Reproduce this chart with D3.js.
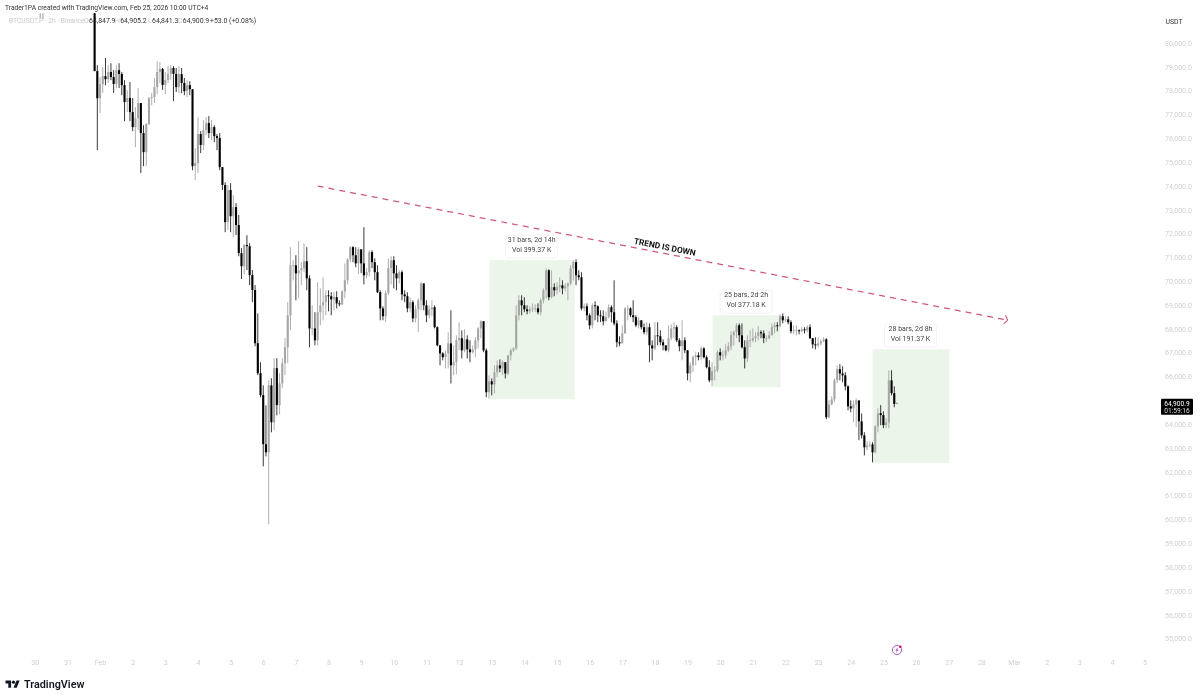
<!DOCTYPE html>
<html><head><meta charset="utf-8">
<script src="https://cdn.jsdelivr.net/npm/d3@7/dist/d3.min.js"></script>
<style>
html,body{margin:0;padding:0;background:#fff;overflow:hidden}
svg{display:block;filter:blur(0.3px)}
text{font-family:Roboto,"Noto Sans",sans-serif}
</style></head><body>
<svg id="c" width="1200" height="699"></svg>
<script>
const firstOpen = 81250;
const closes = [78820,77680,78270,78610,78480,78780,78570,78280,78860,78700,78230,77520,77690,77100,76470,76850,77480,76220,75420,76600,77690,77730,78150,78780,78910,78240,78450,78700,78950,78700,78150,78700,78320,77980,78230,78060,74830,74960,76180,75720,76350,76640,76220,76470,76090,76010,74790,74040,72480,73830,72730,73110,72360,71180,70630,71520,71470,70260,69630,67400,66140,65220,63160,62820,65630,64080,66350,64800,65710,66560,67230,68570,70670,70670,70330,70460,70540,70840,70120,68020,68020,67520,68700,68990,69120,69410,69370,69240,69330,69070,69030,69580,70040,70920,71430,71090,70750,71340,70750,70250,70380,71220,70800,70380,69540,68860,68530,69500,70550,70880,70330,70120,70380,69450,69370,68860,69120,68440,68820,69200,69910,68990,68570,68820,68910,68070,67310,66970,66810,66970,67390,66470,66600,67520,67610,67100,67560,67140,67020,67140,67520,68020,68320,67100,65340,65800,65670,66180,66470,66340,66600,66130,66890,67100,67180,68570,69200,68990,68820,68740,68820,68860,68860,68700,69200,69620,70460,69330,69750,69620,69750,69830,69700,69790,69910,70540,70800,70250,70170,68860,68950,68570,68150,68990,68950,68570,68530,68320,68490,68910,68700,68230,67440,67390,67810,68860,68860,68570,68490,68150,68360,68070,67860,68070,67310,67180,67730,67690,67440,67310,67100,67610,68020,68070,67520,67270,67520,67100,66130,66470,66810,66890,66810,67180,66810,66390,65840,66220,66260,67020,66890,66890,67100,67270,67730,67860,68150,67730,67230,66760,67520,67520,67610,67690,67860,67810,67610,67610,67730,68070,68150,68110,68530,68360,68400,68280,67900,67940,67940,67900,67980,67940,68070,67610,67350,67310,67390,67480,67560,64290,64830,65040,65840,66310,66130,66050,65590,64750,64660,64830,65000,64120,63530,63030,63110,63150,62820,63910,64460,64380,63960,64080,65840,65300,64847.9,64900.9];
const highs = [81250,79070,78570,78990,79370,79070,79150,78860,79070,79150,78780,78440,78020,78360,77690,77310,78110,77480,76550,76640,77730,77900,78530,79240,79200,78950,78780,79030,79070,79030,78950,79030,78950,78530,78440,78400,78060,75590,76890,76300,76770,76890,76930,76770,76550,76180,76220,74790,74160,74040,74120,73620,73280,72780,71390,71560,71930,71600,70470,69840,68650,66600,65630,64790,65840,65930,66770,66770,66140,66770,67610,69120,71430,70880,71090,71680,70800,71590,71430,70250,68990,68700,69960,69700,70170,69620,69620,69540,69540,69580,69200,69620,70750,70960,71470,71470,71430,71430,71340,72270,70550,71300,71300,70960,70670,69620,68950,69620,70960,71050,71050,70670,70460,70460,69620,69540,69330,69200,68990,69280,69960,69910,69200,68990,69200,68990,68110,67310,67020,67100,67860,68780,67310,67730,68280,67940,67980,67730,67520,67310,67650,68070,68360,68320,67180,66050,65920,66470,66680,66720,66680,66600,66890,67180,67230,68990,69410,69410,69330,68990,68950,69070,69030,69070,69280,69700,70540,70500,70460,69910,69960,70170,70040,69910,69960,70670,70880,70920,70460,70380,69070,69070,68650,69070,69160,68990,68780,68780,68730,69030,68990,70040,68360,67690,68150,68910,68990,68910,69200,68570,68490,68360,68230,68280,68230,67520,68280,68280,67940,67560,67310,68150,68190,68280,68150,67610,68360,67650,67100,66600,66890,67020,67020,67270,67230,66890,66680,66600,66430,67100,67180,67100,67350,67440,67900,67940,68230,68230,68230,67520,67730,67940,68020,67860,68110,67940,67940,67730,67900,68230,68280,68280,68610,68650,68530,68530,68360,68150,68150,67980,68070,68070,68150,68190,67610,67650,67650,67560,67650,67610,65000,65170,65920,66470,66520,66430,66180,65630,65000,65000,65080,64960,64450,63660,63280,63280,63240,63960,64670,64800,64540,64250,66260,66260,65590,64905.2];
const lows = [78820,75500,77060,77900,78230,78320,78440,77900,78110,78110,77810,76720,77100,76720,76300,75630,76350,74540,74830,74830,76550,77390,77480,77860,78320,78030,77860,78320,78450,77560,77940,77900,77900,77810,77730,77810,74660,74240,74540,75380,75500,76130,76010,75930,75840,75500,74660,73830,72060,72150,72060,71850,71940,71050,70090,70300,70470,69840,69120,67270,66060,65130,62230,62650,59800,63660,63750,64370,64410,65510,66060,66560,67940,70040,69200,69280,69830,70380,69620,67230,67730,67310,67310,68150,68360,68570,68740,68570,68780,68860,68950,69000,69280,69870,70800,70800,70590,70300,70340,69870,70120,70210,70550,70040,69500,68360,68360,68280,69410,69870,69700,69620,69910,69200,69120,68700,68700,68280,68280,67860,68780,68780,68280,68440,68530,68020,67270,66470,66680,66340,66340,65710,66060,66090,67100,66760,67020,66760,66600,66970,66810,67180,67610,67020,65130,65080,65210,65290,65970,66180,66060,65920,66060,66680,67020,67100,68360,68570,68700,68610,68650,68700,68700,68610,68570,69070,69280,69200,69280,69370,69450,69540,69450,69580,69200,69830,70040,69830,70040,68780,68740,68360,67980,68020,68360,68280,68280,68150,68320,68440,68280,68150,67230,67270,67730,67810,68360,68490,68280,68070,68020,67980,67770,67730,66600,66680,67100,67310,67310,67100,67060,67020,67520,67610,67440,67060,66680,66980,65840,65760,66180,66470,66680,66680,66760,66340,65760,65590,65840,66180,66680,66680,66760,67020,67100,67310,67610,67440,67180,66340,66600,67230,67440,67440,67520,67610,67400,67440,67560,67730,67810,67900,68070,68230,68280,68190,67810,67770,67730,67770,67860,67810,67860,67570,67180,67140,67230,67310,67440,64210,64250,64790,64920,65720,65840,65760,65420,64580,64500,64080,63870,63330,63400,62690,62900,63030,62400,62780,63660,63960,63830,63830,63830,65210,64710,64841.3];
// wick stubs poking out above the legend, left of the main series
const stubBars = [-20,-19];
const stubHigh = [81250,81250];
const stubLow = [81050,81000];

const priceTicks = [80000,79000,78000,77000,76000,75000,74000,73000,72000,71000,70000,69000,68000,67000,66000,64000,63000,62000,61000,60000,59000,58000,57000,56000,55000];
const dayLabels = ["30","31","Feb","2","3","4","5","6","7","8","9","10","11","12","13","14","15","16","17","18","19","20","21","22","23","24","25","26","27","28","Mar","2","3","4","5"];
const barsPerDay = 12;
const febBar = 2;

const rangeStart = [145.2,227.2,286];
const rangeEnd = [176.5,252.2,314.3];
const rangeTop = [70886,68576,67148];
const rangeBottom = [65048,65552,62360];
const rangeLine1 = ["31 bars, 2d 14h","25 bars, 2d 2h","28 bars, 2d 8h"];
const rangeLine2 = ["Vol 399.37 K","Vol 377.18 K","Vol 191.37 K"];

const trendBars = [82,335.7];
const trendPrices = [73994,68366];
const trendLabel = "TREND IS DOWN";

const header = "Trader1PA created with TradingView.com, Feb 25, 2026 10:00 UTC+4";
const symbolText = "BTCUSDT.P · 2h · Binance";
const ohlcLetters = ["O","H","L","C"];
const ohlcValues = ["64,847.9","64,905.2","64,841.3","64,900.9"];
const changeText = "+53.0 (+0.08%)";
const lastPrice = 64900.9;
const lastLabel = "64,900.9";
const countdown = "01:59:16";
const eventBar = 295;

const svg = d3.select("#c");
const x = d3.scaleLinear().domain([0,295]).range([94.6,897]);
const y = d3.scaleLinear().domain([55000,80000]).range([638.6,43]);

const bars = closes.map((c,i)=>({i,c,o:i?closes[i-1]:firstOpen,h:highs[i],l:lows[i]}));
const UP="#a6a6a6", DOWN="#000";

// green ranges
svg.append("g").selectAll("rect").data(rangeStart).join("rect")
  .attr("x",(d)=>x(d))
  .attr("width",(d,i)=>x(rangeEnd[i])-x(d))
  .attr("y",(d,i)=>y(rangeTop[i]))
  .attr("height",(d,i)=>y(rangeBottom[i])-y(rangeTop[i]))
  .attr("fill","#ecf5ea");

// axes
const yAxis = d3.axisRight(y).tickValues(priceTicks).tickSize(0).tickPadding(0)
  .tickFormat(d=>d3.format(",.1f")(d));
const gy = svg.append("g").attr("transform","translate(1165,0)").call(yAxis);
gy.select(".domain").remove();
gy.selectAll("text").attr("fill","#cfcfcf").style("font-size","7px");

const dayTicks = dayLabels.map((d,k)=>(k-2)*barsPerDay+febBar);
const xAxis = d3.axisBottom(x).tickValues(dayTicks).tickSize(0).tickPadding(0)
  .tickFormat((d,k)=>dayLabels[k]);
const gx = svg.append("g").attr("transform","translate(0,660)").call(xAxis);
gx.select(".domain").remove();
gx.selectAll("text").attr("fill","#cfcfcf").style("font-size","7px");

// candles
const g = svg.append("g");
g.selectAll("line.w").data(bars).join("line").attr("class","w")
  .attr("x1",d=>x(d.i)).attr("x2",d=>x(d.i))
  .attr("y1",d=>y(d.h)).attr("y2",d=>y(d.l))
  .attr("stroke",d=>d.c>=d.o?UP:"#222").attr("stroke-width",0.9);
g.selectAll("rect").data(bars).join("rect")
  .attr("x",d=>x(d.i)-1.05).attr("width",2.1)
  .attr("y",d=>y(Math.max(d.o,d.c)))
  .attr("height",d=>Math.max(0.8,Math.abs(y(d.o)-y(d.c))))
  .attr("fill",d=>d.c>=d.o?UP:DOWN);
g.selectAll("line.s").data(stubBars).join("line").attr("class","s")
  .attr("x1",d=>x(d)).attr("x2",d=>x(d))
  .attr("y1",(d,i)=>y(stubHigh[i])).attr("y2",(d,i)=>y(stubLow[i]))
  .attr("stroke","#8a8a8a").attr("stroke-width",0.9);

// trend line
const tx0=x(trendBars[0]),ty0=y(trendPrices[0]),tx1=x(trendBars[1]),ty1=y(trendPrices[1]);
svg.append("line").attr("x1",tx0).attr("y1",ty0).attr("x2",tx1).attr("y2",ty1)
  .attr("stroke","#cc5a78").attr("stroke-width",1.25).attr("stroke-dasharray","6 5");
const ang=Math.atan2(ty1-ty0,tx1-tx0);
[-1,1].forEach(s=>{
  svg.append("line").attr("x1",tx1).attr("y1",ty1)
    .attr("x2",tx1-5.5*Math.cos(ang+s*0.95)).attr("y2",ty1-5.5*Math.sin(ang+s*0.95))
    .attr("stroke","#cc5a78").attr("stroke-width",1.1);
});
const angDeg=ang*180/Math.PI;
svg.append("text").attr("transform",`translate(${(tx0+tx1)/2+2},${(ty0+ty1)/2-5.5}) rotate(${angDeg})`)
  .attr("text-anchor","middle").attr("dominant-baseline","middle")
  .style("font-size","8.4px").style("font-weight","700").attr("fill","#111").text(trendLabel);

// range labels
rangeStart.forEach((s,i)=>{
  const cx=(x(s)+x(rangeEnd[i]))/2-0.5, top=y(rangeTop[i]);
  svg.append("rect").attr("x",cx-26).attr("y",top-25).attr("width",52).attr("height",23).attr("rx",3)
    .attr("fill","#fff").attr("stroke","#f3f3f3").attr("stroke-width",1);
  svg.append("text").attr("x",cx).attr("y",top-18).attr("text-anchor","middle").style("font-size","7px").attr("fill","#444").text(rangeLine1[i]);
  svg.append("text").attr("x",cx).attr("y",top-8.5).attr("text-anchor","middle").style("font-size","7px").attr("fill","#444").text(rangeLine2[i]);
});

// header + legend
svg.append("text").attr("x",5).attr("y",10).style("font-size","6.7px").attr("fill","#333").text(header);
svg.append("text").attr("x",9).attr("y",23).style("font-size","6.7px").attr("fill","#c8c8c8").text(symbolText);
const ohlcX=[84,115,148,178];
ohlcLetters.forEach((l,i)=>{
  const t=svg.append("text").attr("x",ohlcX[i]).attr("y",23).style("font-size","6.9px");
  t.append("tspan").attr("fill","#c8c8c8").text(l);
  t.append("tspan").attr("fill","#333").attr("dx",0.3).text(ohlcValues[i]);
});
svg.append("text").attr("x",210).attr("y",23).style("font-size","6.9px").attr("fill","#333").text(changeText);
svg.append("text").attr("x",1174).attr("y",23.5).attr("text-anchor","middle").style("font-size","6.9px").attr("fill","#333").text("USDT");

// price tag
const py=y(lastPrice);
svg.append("rect").attr("x",1161).attr("y",py-4).attr("width",32).attr("height",16).attr("rx",1).attr("fill","#000");
svg.append("text").attr("x",1177).attr("y",py+3).attr("text-anchor","middle").style("font-size","6.6px").attr("fill","#fff").text(lastLabel);
svg.append("text").attr("x",1177).attr("y",py+10).attr("text-anchor","middle").style("font-size","6.6px").attr("fill","#ddd").text(countdown);

// event icon
const ex=x(eventBar), eg=svg.append("g").attr("transform",`translate(${ex},650)`);
eg.append("circle").attr("r",4.6).attr("fill","#fff").attr("stroke","#a24cc0").attr("stroke-width",0.9);
eg.append("path").attr("d","M1,-3 L-1.6,0.5 L-0.2,0.5 L-1,3 L1.6,-0.6 L0.2,-0.6 Z").attr("fill","#a24cc0");
eg.append("circle").attr("cx",3.3).attr("cy",-3.3).attr("r",1.3).attr("fill","#c2185b");

// logo
const lg=svg.append("g").attr("transform","translate(5.5,679) scale(0.4)");
lg.append("path").attr("d","M14 22H7V11H0V4h14v18zM28 22h-8l7.5-18h8L28 22z").attr("fill","#131722");
lg.append("circle").attr("cx",20).attr("cy",8).attr("r",4).attr("fill","#131722");
svg.append("text").attr("x",24).attr("y",688.3).style("font-size","10.8px").style("font-weight","600").attr("fill","#131722").text("TradingView");
</script>
</body></html>
